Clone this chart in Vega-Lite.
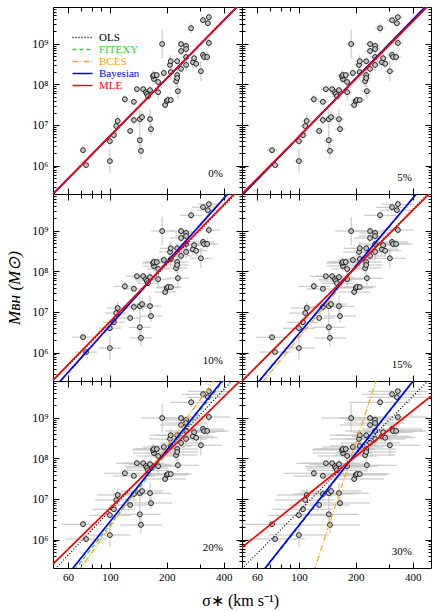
{
"$schema":"https://vega.github.io/schema/vega-lite/v6.json",
"background":"white",
"padding":{"left":5,"top":2,"right":4,"bottom":4},
"title":{"text":"σ∗ (km s⁻¹)","orient":"bottom","anchor":"middle","frame":"bounds","dx":22,"font":"Liberation Serif","fontSize":16,"fontWeight":"normal","offset":8,"color":"black"},
"datasets":{
"pts":[
{"s":72.1,"m":2.4e6,"lo":2.14e6,"hi":2.69e6},
{"s":74.8,"m":1.03e6,"lo":9.2e5,"hi":1.16e6},
{"s":100,"m":1.29e6,"lo":6.5e5,"hi":2.57e6},
{"s":100,"m":4.0e6,"lo":3.18e6,"hi":5.04e6},
{"s":105,"m":5.6e6,"lo":4.66e6,"hi":6.73e6},
{"s":108,"m":9.4e6,"lo":5.93e6,"hi":1.49e7},
{"s":110,"m":1.25e7,"lo":8.85e6,"hi":1.77e7},
{"s":120,"m":4.3e7,"lo":3.42e7,"hi":5.41e7},
{"s":128,"m":7.1e6,"lo":6.33e6,"hi":7.97e6},
{"s":134,"m":1.32e7,"lo":1.0e7,"hi":1.74e7},
{"s":134,"m":3.7e7,"lo":3.3e7,"hi":4.15e7},
{"s":139,"m":7.6e7,"lo":6.77e7,"hi":8.53e7},
{"s":144,"m":4.2e6,"lo":2.36e6,"hi":7.47e6},
{"s":146,"m":2.3e6,"lo":1.45e6,"hi":3.65e6},
{"s":144,"m":1.39e7,"lo":7.82e6,"hi":2.47e7},
{"s":148,"m":1.56e7,"lo":1.1e7,"hi":2.2e7},
{"s":150,"m":7.6e7,"lo":6.77e7,"hi":8.53e7},
{"s":155,"m":6.4e7,"lo":5.32e7,"hi":7.69e7},
{"s":157,"m":5.8e7,"lo":4.83e7,"hi":6.97e7},
{"s":159,"m":5.1e7,"lo":4.55e7,"hi":5.72e7},
{"s":163,"m":1.39e7,"lo":7.82e6,"hi":2.47e7},
{"s":165,"m":7.9e6,"lo":5.59e6,"hi":1.12e7},
{"s":163,"m":7.2e7,"lo":5.72e7,"hi":9.06e7},
{"s":171,"m":1.35e8,"lo":1.02e8,"hi":1.78e8},
{"s":169,"m":1.6e8,"lo":1.13e8,"hi":2.26e8},
{"s":171,"m":1.69e8,"lo":1.34e8,"hi":2.13e8},
{"s":177,"m":1.69e8,"lo":1.41e8,"hi":2.03e8},
{"s":180,"m":1.14e8,"lo":8.07e7,"hi":1.61e8},
{"s":180,"m":6.4e7,"lo":4.04e7,"hi":1.01e8},
{"s":189,"m":9.8e8,"lo":4.38e8,"hi":2.19e9},
{"s":193,"m":1.9e8,"lo":1.51e8,"hi":2.39e8},
{"s":196,"m":3.1e7,"lo":2.58e7,"hi":3.73e7},
{"s":200,"m":3.9e7,"lo":3.1e7,"hi":4.91e7},
{"s":203,"m":4.1e7,"lo":3.26e7,"hi":5.16e7},
{"s":210,"m":4.1e7,"lo":3.41e7,"hi":4.93e7},
{"s":208,"m":3.0e8,"lo":1.89e8,"hi":4.76e8},
{"s":210,"m":3.7e8,"lo":2.62e8,"hi":5.23e8},
{"s":210,"m":2.0e8,"lo":1.26e8,"hi":3.17e8},
{"s":224,"m":1.2e8,"lo":8.49e7,"hi":1.7e8},
{"s":227,"m":3.7e8,"lo":2.94e8,"hi":4.66e8},
{"s":227,"m":1.69e8,"lo":1.2e8,"hi":2.39e8},
{"s":227,"m":1.43e8,"lo":1.01e8,"hi":2.02e8},
{"s":229,"m":6.8e7,"lo":4.49e7,"hi":1.03e8},
{"s":238,"m":9.8e8,"lo":8.15e8,"hi":1.18e9},
{"s":238,"m":6.6e8,"lo":5.24e8,"hi":8.31e8},
{"s":238,"m":2.4e8,"lo":1.82e8,"hi":3.16e8},
{"s":253,"m":8.8e8,"lo":6.99e8,"hi":1.11e9},
{"s":253,"m":7.4e8,"lo":5.88e8,"hi":9.32e8},
{"s":253,"m":4.7e8,"lo":3.57e8,"hi":6.19e8},
{"s":253,"m":3.0e8,"lo":2.12e8,"hi":4.24e8},
{"s":269,"m":2.4e9,"lo":1.82e9,"hi":3.16e9},
{"s":275,"m":3.5e8,"lo":2.48e8,"hi":4.95e8},
{"s":279,"m":4.4e8,"lo":3.34e8,"hi":5.8e8},
{"s":286,"m":3.2e8,"lo":2.43e8,"hi":4.22e8},
{"s":303,"m":2.1e8,"lo":1.18e8,"hi":3.73e8},
{"s":311,"m":3.8e9,"lo":3.39e9,"hi":4.26e9},
{"s":311,"m":5.3e8,"lo":4.21e8,"hi":6.67e8},
{"s":315,"m":4.7e8,"lo":3.73e8,"hi":5.92e8},
{"s":327,"m":4.7e8,"lo":3.57e8,"hi":6.19e8},
{"s":330,"m":3.2e9,"lo":2.66e9,"hi":3.85e9},
{"s":334,"m":4.5e9,"lo":4.01e9,"hi":5.05e9},
{"s":334,"m":1.04e9,"lo":7.89e8,"hi":1.37e9}
],
"fits":[
{"p":"0%","method":"OLS","s":50,"m":2.0e5},{"p":"0%","method":"OLS","s":500,"m":1.07e10},
{"p":"0%","method":"FITEXY","s":50,"m":2.0e5},{"p":"0%","method":"FITEXY","s":500,"m":1.07e10},
{"p":"0%","method":"BCES","s":50,"m":2.0e5},{"p":"0%","method":"BCES","s":500,"m":1.07e10},
{"p":"0%","method":"Bayesian","s":50,"m":2.0e5},{"p":"0%","method":"Bayesian","s":500,"m":1.07e10},
{"p":"0%","method":"MLE","s":50,"m":2.0e5},{"p":"0%","method":"MLE","s":500,"m":1.07e10},
{"p":"5%","method":"OLS","s":50,"m":2.0e5},{"p":"5%","method":"OLS","s":500,"m":1.0e10},
{"p":"5%","method":"FITEXY","s":50,"m":1.82e5},{"p":"5%","method":"FITEXY","s":500,"m":1.15e10},
{"p":"5%","method":"BCES","s":50,"m":1.78e5},{"p":"5%","method":"BCES","s":500,"m":1.17e10},
{"p":"5%","method":"Bayesian","s":50,"m":1.86e5},{"p":"5%","method":"Bayesian","s":500,"m":1.12e10},
{"p":"5%","method":"MLE","s":50,"m":2.0e5},{"p":"5%","method":"MLE","s":500,"m":1.0e10},
{"p":"10%","method":"OLS","s":50,"m":2.0e5},{"p":"10%","method":"OLS","s":500,"m":1.17e10},
{"p":"10%","method":"FITEXY","s":50,"m":1.23e5},{"p":"10%","method":"FITEXY","s":500,"m":2.04e10},
{"p":"10%","method":"BCES","s":50,"m":1.17e5},{"p":"10%","method":"BCES","s":500,"m":2.14e10},
{"p":"10%","method":"Bayesian","s":50,"m":1.26e5},{"p":"10%","method":"Bayesian","s":500,"m":1.95e10},
{"p":"10%","method":"MLE","s":50,"m":2.09e5},{"p":"10%","method":"MLE","s":500,"m":1.26e10},
{"p":"15%","method":"OLS","s":50,"m":1.91e5},{"p":"15%","method":"OLS","s":500,"m":9.55e9},
{"p":"15%","method":"FITEXY","s":50,"m":6.03e4},{"p":"15%","method":"FITEXY","s":500,"m":2.14e10},
{"p":"15%","method":"BCES","s":50,"m":4.47e4},{"p":"15%","method":"BCES","s":500,"m":2.24e10},
{"p":"15%","method":"Bayesian","s":50,"m":6.31e4},{"p":"15%","method":"Bayesian","s":500,"m":2.14e10},
{"p":"15%","method":"MLE","s":50,"m":2.0e5},{"p":"15%","method":"MLE","s":500,"m":8.91e9},
{"p":"20%","method":"OLS","s":50,"m":1.66e5},{"p":"20%","method":"OLS","s":500,"m":1.48e10},
{"p":"20%","method":"FITEXY","s":50,"m":3.8e4},{"p":"20%","method":"FITEXY","s":500,"m":3.02e10},
{"p":"20%","method":"BCES","s":50,"m":2.14e4},{"p":"20%","method":"BCES","s":500,"m":7.94e10},
{"p":"20%","method":"Bayesian","s":50,"m":4.79e4},{"p":"20%","method":"Bayesian","s":500,"m":3.31e10},
{"p":"20%","method":"MLE","s":50,"m":2.51e5},{"p":"20%","method":"MLE","s":500,"m":8.91e9},
{"p":"30%","method":"OLS","s":50,"m":1.91e5},{"p":"30%","method":"OLS","s":500,"m":9.55e9},
{"p":"30%","method":"FITEXY","s":50,"m":3.55e4},{"p":"30%","method":"FITEXY","s":500,"m":2.82e10},
{"p":"30%","method":"BCES","s":50,"m":0.631},{"p":"30%","method":"BCES","s":500,"m":1.12e14},
{"p":"30%","method":"Bayesian","s":50,"m":3.8e4},{"p":"30%","method":"Bayesian","s":500,"m":2.88e10},
{"p":"30%","method":"MLE","s":50,"m":6.46e5},{"p":"30%","method":"MLE","s":500,"m":3.39e9}
]
},
"columns":2,
"spacing":0,
"bounds":"flush",
"align":"all",
"resolve":{"scale":{"color":"independent","strokeDash":"independent"},"legend":{"color":"independent","strokeDash":"independent"}},
"concat":[
{"width":189,"height":187,
"title":{"text":"0%","orient":"top","anchor":"end","frame":"group","offset":-185,"dx":-19,"baseline":"alphabetic","font":"Liberation Serif","fontSize":11,"fontWeight":"normal","color":"black"},
"resolve":{"axis":{"x":"independent","y":"independent"}},
"layer":[
{"data":{"name":"pts"},"mark":{"type":"rule","color":"#c0c0c0","strokeWidth":1},
"encoding":{"x":{"field":"s","type":"quantitative","scale":{"type":"log","domain":[50,500],"nice":false},"axis":{"orient":"top","values":[60,70,80,90,100,200,300,400],"tickSize":{"condition":{"test":"datum.value==60||datum.value==100||datum.value==200||datum.value==400","value":-6},"value":-4},"labels":false,"title":null}},
"y":{"field":"lo","type":"quantitative","scale":{"type":"log","domain":[2e5,8e9],"nice":false},"axis":{"orient":"right","values":[300000,400000,500000,600000,700000,800000,900000,1e6,2e6,3e6,4e6,5e6,6e6,7e6,8e6,9e6,1e7,2e7,3e7,4e7,5e7,6e7,7e7,8e7,9e7,1e8,2e8,3e8,4e8,5e8,6e8,7e8,8e8,9e8,1e9,2e9,3e9,4e9,5e9,6e9,7e9],"tickSize":{"condition":{"test":"datum.value==1e6||datum.value==1e7||datum.value==1e8||datum.value==1e9","value":-6},"value":-3},"labels":false,"title":null}},
"y2":{"field":"hi"}}},
{"data":{"name":"pts"},"mark":{"type":"circle","color":"#c4c4c4","stroke":"black","strokeWidth":0.8,"size":24,"opacity":1},
"encoding":{"x":{"field":"s","type":"quantitative","scale":{"type":"log","domain":[50,500],"nice":false},"axis":{"orient":"bottom","values":[60,70,80,90,100,200,300,400],"tickSize":{"condition":{"test":"datum.value==60||datum.value==100||datum.value==200||datum.value==400","value":-6},"value":-4},"labels":false,"title":null}},
"y":{"field":"m","type":"quantitative","scale":{"type":"log","domain":[2e5,8e9],"nice":false},"axis":{"orient":"left","values":[300000,400000,500000,600000,700000,800000,900000,1e6,2e6,3e6,4e6,5e6,6e6,7e6,8e6,9e6,1e7,2e7,3e7,4e7,5e7,6e7,7e7,8e7,9e7,1e8,2e8,3e8,4e8,5e8,6e8,7e8,8e8,9e8,1e9,2e9,3e9,4e9,5e9,6e9,7e9],"tickSize":{"condition":{"test":"datum.value==1e6||datum.value==1e7||datum.value==1e8||datum.value==1e9","value":-6},"value":-3},"labelExpr":"datum.value==1e6?'10⁶':datum.value==1e7?'10⁷':datum.value==1e8?'10⁸':datum.value==1e9?'10⁹':''","labelPadding":11,"labelFontSize":12,"title":null}}}},
{"data":{"name":"fits"},"transform":[{"filter":"datum.p=='0%' && (datum.method=='OLS'||datum.method=='FITEXY'||datum.method=='BCES')"}],"mark":{"type":"line","clip":true,"strokeWidth":1.2},
"encoding":{"x":{"field":"s","type":"quantitative","scale":{"type":"log","domain":[50,500],"nice":false},"axis":null},
"y":{"field":"m","type":"quantitative","scale":{"type":"log","domain":[2e5,8e9],"nice":false},"axis":null},
"color":{"field":"method","type":"nominal","scale":{"domain":["OLS","FITEXY","BCES","Bayesian","MLE"],"range":["black","#33cc33","orange","blue","red"]},"legend":{"orient":"none","legendX":24,"legendY":25,"title":null,"symbolType":"M-2.5,0H2.5","symbolSize":64,"symbolStrokeWidth":1.5,"labelFont":"Liberation Serif","labelFontSize":11,"labelColor":{"expr":"datum.value=='OLS'?'black':datum.value=='FITEXY'?'#33cc33':datum.value=='BCES'?'orange':datum.value=='Bayesian'?'blue':'red'"},"rowPadding":0,"padding":0,"labelOffset":11}},
"strokeDash":{"field":"method","type":"nominal","scale":{"domain":["OLS","FITEXY","BCES","Bayesian","MLE"],"range":[[1,2],[4,3],[6,2,1,2],[1,0],[1,0]]},"legend":{"orient":"none","legendX":24,"legendY":25,"title":null,"symbolType":"M-2.5,0H2.5","symbolSize":64,"symbolStrokeWidth":1.5,"labelFont":"Liberation Serif","labelFontSize":11,"labelColor":{"expr":"datum.value=='OLS'?'black':datum.value=='FITEXY'?'#33cc33':datum.value=='BCES'?'orange':datum.value=='Bayesian'?'blue':'red'"},"rowPadding":0,"padding":0,"labelOffset":11}}}},
{"data":{"name":"fits"},"transform":[{"filter":"datum.p=='0%' && datum.method=='Bayesian'"}],"mark":{"type":"line","clip":true,"strokeWidth":1.7},
"encoding":{"x":{"field":"s","type":"quantitative","scale":{"type":"log","domain":[50,500],"nice":false},"axis":null},
"y":{"field":"m","type":"quantitative","scale":{"type":"log","domain":[2e5,8e9],"nice":false},"axis":null},
"color":{"field":"method","type":"nominal","scale":{"domain":["OLS","FITEXY","BCES","Bayesian","MLE"],"range":["black","#33cc33","orange","blue","red"]},"legend":{"orient":"none","legendX":24,"legendY":25,"title":null,"symbolType":"M-2.5,0H2.5","symbolSize":64,"symbolStrokeWidth":1.5,"labelFont":"Liberation Serif","labelFontSize":11,"labelColor":{"expr":"datum.value=='OLS'?'black':datum.value=='FITEXY'?'#33cc33':datum.value=='BCES'?'orange':datum.value=='Bayesian'?'blue':'red'"},"rowPadding":0,"padding":0,"labelOffset":11}},
"strokeDash":{"field":"method","type":"nominal","scale":{"domain":["OLS","FITEXY","BCES","Bayesian","MLE"],"range":[[1,2],[4,3],[6,2,1,2],[1,0],[1,0]]},"legend":{"orient":"none","legendX":24,"legendY":25,"title":null,"symbolType":"M-2.5,0H2.5","symbolSize":64,"symbolStrokeWidth":1.5,"labelFont":"Liberation Serif","labelFontSize":11,"labelColor":{"expr":"datum.value=='OLS'?'black':datum.value=='FITEXY'?'#33cc33':datum.value=='BCES'?'orange':datum.value=='Bayesian'?'blue':'red'"},"rowPadding":0,"padding":0,"labelOffset":11}}}},
{"data":{"name":"fits"},"transform":[{"filter":"datum.p=='0%' && datum.method=='MLE'"}],"mark":{"type":"line","clip":true,"strokeWidth":1.7},
"encoding":{"x":{"field":"s","type":"quantitative","scale":{"type":"log","domain":[50,500],"nice":false},"axis":null},
"y":{"field":"m","type":"quantitative","scale":{"type":"log","domain":[2e5,8e9],"nice":false},"axis":null},
"color":{"field":"method","type":"nominal","scale":{"domain":["OLS","FITEXY","BCES","Bayesian","MLE"],"range":["black","#33cc33","orange","blue","red"]},"legend":{"orient":"none","legendX":24,"legendY":25,"title":null,"symbolType":"M-2.5,0H2.5","symbolSize":64,"symbolStrokeWidth":1.5,"labelFont":"Liberation Serif","labelFontSize":11,"labelColor":{"expr":"datum.value=='OLS'?'black':datum.value=='FITEXY'?'#33cc33':datum.value=='BCES'?'orange':datum.value=='Bayesian'?'blue':'red'"},"rowPadding":0,"padding":0,"labelOffset":11}},
"strokeDash":{"field":"method","type":"nominal","scale":{"domain":["OLS","FITEXY","BCES","Bayesian","MLE"],"range":[[1,2],[4,3],[6,2,1,2],[1,0],[1,0]]},"legend":{"orient":"none","legendX":24,"legendY":25,"title":null,"symbolType":"M-2.5,0H2.5","symbolSize":64,"symbolStrokeWidth":1.5,"labelFont":"Liberation Serif","labelFontSize":11,"labelColor":{"expr":"datum.value=='OLS'?'black':datum.value=='FITEXY'?'#33cc33':datum.value=='BCES'?'orange':datum.value=='Bayesian'?'blue':'red'"},"rowPadding":0,"padding":0,"labelOffset":11}}}}
]},
{"width":189,"height":187,
"title":{"text":"5%","orient":"top","anchor":"end","frame":"group","offset":-185,"dx":-19,"baseline":"alphabetic","font":"Liberation Serif","fontSize":11,"fontWeight":"normal","color":"black"},
"resolve":{"axis":{"x":"independent","y":"independent"}},
"layer":[
{"data":{"name":"pts"},"mark":{"type":"rule","color":"#c0c0c0","strokeWidth":1},
"encoding":{"x":{"field":"s","type":"quantitative","scale":{"type":"log","domain":[50,500],"nice":false},"axis":{"orient":"top","values":[60,70,80,90,100,200,300,400],"tickSize":{"condition":{"test":"datum.value==60||datum.value==100||datum.value==200||datum.value==400","value":-6},"value":-4},"labels":false,"title":null}},
"y":{"field":"lo","type":"quantitative","scale":{"type":"log","domain":[2e5,8e9],"nice":false},"axis":{"orient":"right","values":[300000,400000,500000,600000,700000,800000,900000,1e6,2e6,3e6,4e6,5e6,6e6,7e6,8e6,9e6,1e7,2e7,3e7,4e7,5e7,6e7,7e7,8e7,9e7,1e8,2e8,3e8,4e8,5e8,6e8,7e8,8e8,9e8,1e9,2e9,3e9,4e9,5e9,6e9,7e9],"tickSize":{"condition":{"test":"datum.value==1e6||datum.value==1e7||datum.value==1e8||datum.value==1e9","value":-6},"value":-3},"labels":false,"title":null}},
"y2":{"field":"hi"}}},
{"data":{"name":"pts"},"mark":{"type":"tick","orient":"horizontal","size":10,"thickness":1,"color":"#c0c0c0","opacity":1},
"encoding":{"x":{"field":"s","type":"quantitative","scale":{"type":"log","domain":[50,500],"nice":false},"axis":null},"y":{"field":"m","type":"quantitative","scale":{"type":"log","domain":[2e5,8e9],"nice":false},"axis":null}}},
{"data":{"name":"pts"},"mark":{"type":"circle","color":"#c4c4c4","stroke":"black","strokeWidth":0.8,"size":24,"opacity":1},
"encoding":{"x":{"field":"s","type":"quantitative","scale":{"type":"log","domain":[50,500],"nice":false},"axis":{"orient":"bottom","values":[60,70,80,90,100,200,300,400],"tickSize":{"condition":{"test":"datum.value==60||datum.value==100||datum.value==200||datum.value==400","value":-6},"value":-4},"labels":false,"title":null}},
"y":{"field":"m","type":"quantitative","scale":{"type":"log","domain":[2e5,8e9],"nice":false},"axis":{"orient":"left","values":[300000,400000,500000,600000,700000,800000,900000,1e6,2e6,3e6,4e6,5e6,6e6,7e6,8e6,9e6,1e7,2e7,3e7,4e7,5e7,6e7,7e7,8e7,9e7,1e8,2e8,3e8,4e8,5e8,6e8,7e8,8e8,9e8,1e9,2e9,3e9,4e9,5e9,6e9,7e9],"tickSize":{"condition":{"test":"datum.value==1e6||datum.value==1e7||datum.value==1e8||datum.value==1e9","value":-6},"value":-3},"labels":false,"title":null}}}},
{"data":{"name":"fits"},"transform":[{"filter":"datum.p=='5%' && (datum.method=='OLS'||datum.method=='FITEXY'||datum.method=='BCES')"}],"mark":{"type":"line","clip":true,"strokeWidth":1.2},
"encoding":{"x":{"field":"s","type":"quantitative","scale":{"type":"log","domain":[50,500],"nice":false},"axis":null},
"y":{"field":"m","type":"quantitative","scale":{"type":"log","domain":[2e5,8e9],"nice":false},"axis":null},
"color":{"field":"method","type":"nominal","scale":{"domain":["OLS","FITEXY","BCES","Bayesian","MLE"],"range":["black","#33cc33","orange","blue","red"]},"legend":null},
"strokeDash":{"field":"method","type":"nominal","scale":{"domain":["OLS","FITEXY","BCES","Bayesian","MLE"],"range":[[1,2],[4,3],[6,2,1,2],[1,0],[1,0]]},"legend":null}}},
{"data":{"name":"fits"},"transform":[{"filter":"datum.p=='5%' && datum.method=='Bayesian'"}],"mark":{"type":"line","clip":true,"strokeWidth":1.7},
"encoding":{"x":{"field":"s","type":"quantitative","scale":{"type":"log","domain":[50,500],"nice":false},"axis":null},
"y":{"field":"m","type":"quantitative","scale":{"type":"log","domain":[2e5,8e9],"nice":false},"axis":null},
"color":{"field":"method","type":"nominal","scale":{"domain":["OLS","FITEXY","BCES","Bayesian","MLE"],"range":["black","#33cc33","orange","blue","red"]},"legend":null},
"strokeDash":{"field":"method","type":"nominal","scale":{"domain":["OLS","FITEXY","BCES","Bayesian","MLE"],"range":[[1,2],[4,3],[6,2,1,2],[1,0],[1,0]]},"legend":null}}},
{"data":{"name":"fits"},"transform":[{"filter":"datum.p=='5%' && datum.method=='MLE'"}],"mark":{"type":"line","clip":true,"strokeWidth":1.7},
"encoding":{"x":{"field":"s","type":"quantitative","scale":{"type":"log","domain":[50,500],"nice":false},"axis":null},
"y":{"field":"m","type":"quantitative","scale":{"type":"log","domain":[2e5,8e9],"nice":false},"axis":null},
"color":{"field":"method","type":"nominal","scale":{"domain":["OLS","FITEXY","BCES","Bayesian","MLE"],"range":["black","#33cc33","orange","blue","red"]},"legend":null},
"strokeDash":{"field":"method","type":"nominal","scale":{"domain":["OLS","FITEXY","BCES","Bayesian","MLE"],"range":[[1,2],[4,3],[6,2,1,2],[1,0],[1,0]]},"legend":null}}}
]},
{"width":189,"height":187,
"title":{"text":"10%","orient":"top","anchor":"end","frame":"group","offset":-185,"dx":-19,"baseline":"alphabetic","font":"Liberation Serif","fontSize":11,"fontWeight":"normal","color":"black"},
"resolve":{"axis":{"x":"independent","y":"independent"}},
"layer":[
{"data":{"name":"pts"},"mark":{"type":"rule","color":"#c0c0c0","strokeWidth":1},
"encoding":{"x":{"field":"s","type":"quantitative","scale":{"type":"log","domain":[50,500],"nice":false},"axis":{"orient":"top","values":[60,70,80,90,100,200,300,400],"tickSize":{"condition":{"test":"datum.value==60||datum.value==100||datum.value==200||datum.value==400","value":-6},"value":-4},"labels":false,"title":null}},
"y":{"field":"lo","type":"quantitative","scale":{"type":"log","domain":[2e5,8e9],"nice":false},"axis":{"orient":"right","values":[300000,400000,500000,600000,700000,800000,900000,1e6,2e6,3e6,4e6,5e6,6e6,7e6,8e6,9e6,1e7,2e7,3e7,4e7,5e7,6e7,7e7,8e7,9e7,1e8,2e8,3e8,4e8,5e8,6e8,7e8,8e8,9e8,1e9,2e9,3e9,4e9,5e9,6e9,7e9],"tickSize":{"condition":{"test":"datum.value==1e6||datum.value==1e7||datum.value==1e8||datum.value==1e9","value":-6},"value":-3},"labels":false,"title":null}},
"y2":{"field":"hi"}}},
{"data":{"name":"pts"},"mark":{"type":"tick","orient":"horizontal","size":22,"thickness":1,"color":"#c0c0c0","opacity":1},
"encoding":{"x":{"field":"s","type":"quantitative","scale":{"type":"log","domain":[50,500],"nice":false},"axis":null},"y":{"field":"m","type":"quantitative","scale":{"type":"log","domain":[2e5,8e9],"nice":false},"axis":null}}},
{"data":{"name":"pts"},"mark":{"type":"circle","color":"#c4c4c4","stroke":"black","strokeWidth":0.8,"size":24,"opacity":1},
"encoding":{"x":{"field":"s","type":"quantitative","scale":{"type":"log","domain":[50,500],"nice":false},"axis":{"orient":"bottom","values":[60,70,80,90,100,200,300,400],"tickSize":{"condition":{"test":"datum.value==60||datum.value==100||datum.value==200||datum.value==400","value":-6},"value":-4},"labels":false,"title":null}},
"y":{"field":"m","type":"quantitative","scale":{"type":"log","domain":[2e5,8e9],"nice":false},"axis":{"orient":"left","values":[300000,400000,500000,600000,700000,800000,900000,1e6,2e6,3e6,4e6,5e6,6e6,7e6,8e6,9e6,1e7,2e7,3e7,4e7,5e7,6e7,7e7,8e7,9e7,1e8,2e8,3e8,4e8,5e8,6e8,7e8,8e8,9e8,1e9,2e9,3e9,4e9,5e9,6e9,7e9],"tickSize":{"condition":{"test":"datum.value==1e6||datum.value==1e7||datum.value==1e8||datum.value==1e9","value":-6},"value":-3},"labelExpr":"datum.value==1e6?'10⁶':datum.value==1e7?'10⁷':datum.value==1e8?'10⁸':datum.value==1e9?'10⁹':''","labelPadding":11,"labelFontSize":12,"title":"Mʙʜ (M⊙)","titleFont":"Liberation Serif","titleFontSize":17,"titleFontStyle":"italic","titleFontWeight":"normal","titlePadding":8}}}},
{"data":{"name":"fits"},"transform":[{"filter":"datum.p=='10%' && (datum.method=='OLS'||datum.method=='FITEXY'||datum.method=='BCES')"}],"mark":{"type":"line","clip":true,"strokeWidth":1.2},
"encoding":{"x":{"field":"s","type":"quantitative","scale":{"type":"log","domain":[50,500],"nice":false},"axis":null},
"y":{"field":"m","type":"quantitative","scale":{"type":"log","domain":[2e5,8e9],"nice":false},"axis":null},
"color":{"field":"method","type":"nominal","scale":{"domain":["OLS","FITEXY","BCES","Bayesian","MLE"],"range":["black","#33cc33","orange","blue","red"]},"legend":null},
"strokeDash":{"field":"method","type":"nominal","scale":{"domain":["OLS","FITEXY","BCES","Bayesian","MLE"],"range":[[1,2],[4,3],[6,2,1,2],[1,0],[1,0]]},"legend":null}}},
{"data":{"name":"fits"},"transform":[{"filter":"datum.p=='10%' && datum.method=='Bayesian'"}],"mark":{"type":"line","clip":true,"strokeWidth":1.7},
"encoding":{"x":{"field":"s","type":"quantitative","scale":{"type":"log","domain":[50,500],"nice":false},"axis":null},
"y":{"field":"m","type":"quantitative","scale":{"type":"log","domain":[2e5,8e9],"nice":false},"axis":null},
"color":{"field":"method","type":"nominal","scale":{"domain":["OLS","FITEXY","BCES","Bayesian","MLE"],"range":["black","#33cc33","orange","blue","red"]},"legend":null},
"strokeDash":{"field":"method","type":"nominal","scale":{"domain":["OLS","FITEXY","BCES","Bayesian","MLE"],"range":[[1,2],[4,3],[6,2,1,2],[1,0],[1,0]]},"legend":null}}},
{"data":{"name":"fits"},"transform":[{"filter":"datum.p=='10%' && datum.method=='MLE'"}],"mark":{"type":"line","clip":true,"strokeWidth":1.7},
"encoding":{"x":{"field":"s","type":"quantitative","scale":{"type":"log","domain":[50,500],"nice":false},"axis":null},
"y":{"field":"m","type":"quantitative","scale":{"type":"log","domain":[2e5,8e9],"nice":false},"axis":null},
"color":{"field":"method","type":"nominal","scale":{"domain":["OLS","FITEXY","BCES","Bayesian","MLE"],"range":["black","#33cc33","orange","blue","red"]},"legend":null},
"strokeDash":{"field":"method","type":"nominal","scale":{"domain":["OLS","FITEXY","BCES","Bayesian","MLE"],"range":[[1,2],[4,3],[6,2,1,2],[1,0],[1,0]]},"legend":null}}}
]},
{"width":189,"height":187,
"title":{"text":"15%","orient":"top","anchor":"end","frame":"group","offset":-185,"dx":-19,"baseline":"alphabetic","font":"Liberation Serif","fontSize":11,"fontWeight":"normal","color":"black"},
"resolve":{"axis":{"x":"independent","y":"independent"}},
"layer":[
{"data":{"name":"pts"},"mark":{"type":"rule","color":"#c0c0c0","strokeWidth":1},
"encoding":{"x":{"field":"s","type":"quantitative","scale":{"type":"log","domain":[50,500],"nice":false},"axis":{"orient":"top","values":[60,70,80,90,100,200,300,400],"tickSize":{"condition":{"test":"datum.value==60||datum.value==100||datum.value==200||datum.value==400","value":-6},"value":-4},"labels":false,"title":null}},
"y":{"field":"lo","type":"quantitative","scale":{"type":"log","domain":[2e5,8e9],"nice":false},"axis":{"orient":"right","values":[300000,400000,500000,600000,700000,800000,900000,1e6,2e6,3e6,4e6,5e6,6e6,7e6,8e6,9e6,1e7,2e7,3e7,4e7,5e7,6e7,7e7,8e7,9e7,1e8,2e8,3e8,4e8,5e8,6e8,7e8,8e8,9e8,1e9,2e9,3e9,4e9,5e9,6e9,7e9],"tickSize":{"condition":{"test":"datum.value==1e6||datum.value==1e7||datum.value==1e8||datum.value==1e9","value":-6},"value":-3},"labels":false,"title":null}},
"y2":{"field":"hi"}}},
{"data":{"name":"pts"},"mark":{"type":"tick","orient":"horizontal","size":32,"thickness":1,"color":"#c0c0c0","opacity":1},
"encoding":{"x":{"field":"s","type":"quantitative","scale":{"type":"log","domain":[50,500],"nice":false},"axis":null},"y":{"field":"m","type":"quantitative","scale":{"type":"log","domain":[2e5,8e9],"nice":false},"axis":null}}},
{"data":{"name":"pts"},"mark":{"type":"circle","color":"#c4c4c4","stroke":"black","strokeWidth":0.8,"size":24,"opacity":1},
"encoding":{"x":{"field":"s","type":"quantitative","scale":{"type":"log","domain":[50,500],"nice":false},"axis":{"orient":"bottom","values":[60,70,80,90,100,200,300,400],"tickSize":{"condition":{"test":"datum.value==60||datum.value==100||datum.value==200||datum.value==400","value":-6},"value":-4},"labels":false,"title":null}},
"y":{"field":"m","type":"quantitative","scale":{"type":"log","domain":[2e5,8e9],"nice":false},"axis":{"orient":"left","values":[300000,400000,500000,600000,700000,800000,900000,1e6,2e6,3e6,4e6,5e6,6e6,7e6,8e6,9e6,1e7,2e7,3e7,4e7,5e7,6e7,7e7,8e7,9e7,1e8,2e8,3e8,4e8,5e8,6e8,7e8,8e8,9e8,1e9,2e9,3e9,4e9,5e9,6e9,7e9],"tickSize":{"condition":{"test":"datum.value==1e6||datum.value==1e7||datum.value==1e8||datum.value==1e9","value":-6},"value":-3},"labels":false,"title":null}}}},
{"data":{"name":"fits"},"transform":[{"filter":"datum.p=='15%' && (datum.method=='OLS'||datum.method=='FITEXY'||datum.method=='BCES')"}],"mark":{"type":"line","clip":true,"strokeWidth":1.2},
"encoding":{"x":{"field":"s","type":"quantitative","scale":{"type":"log","domain":[50,500],"nice":false},"axis":null},
"y":{"field":"m","type":"quantitative","scale":{"type":"log","domain":[2e5,8e9],"nice":false},"axis":null},
"color":{"field":"method","type":"nominal","scale":{"domain":["OLS","FITEXY","BCES","Bayesian","MLE"],"range":["black","#33cc33","orange","blue","red"]},"legend":null},
"strokeDash":{"field":"method","type":"nominal","scale":{"domain":["OLS","FITEXY","BCES","Bayesian","MLE"],"range":[[1,2],[4,3],[6,2,1,2],[1,0],[1,0]]},"legend":null}}},
{"data":{"name":"fits"},"transform":[{"filter":"datum.p=='15%' && datum.method=='Bayesian'"}],"mark":{"type":"line","clip":true,"strokeWidth":1.7},
"encoding":{"x":{"field":"s","type":"quantitative","scale":{"type":"log","domain":[50,500],"nice":false},"axis":null},
"y":{"field":"m","type":"quantitative","scale":{"type":"log","domain":[2e5,8e9],"nice":false},"axis":null},
"color":{"field":"method","type":"nominal","scale":{"domain":["OLS","FITEXY","BCES","Bayesian","MLE"],"range":["black","#33cc33","orange","blue","red"]},"legend":null},
"strokeDash":{"field":"method","type":"nominal","scale":{"domain":["OLS","FITEXY","BCES","Bayesian","MLE"],"range":[[1,2],[4,3],[6,2,1,2],[1,0],[1,0]]},"legend":null}}},
{"data":{"name":"fits"},"transform":[{"filter":"datum.p=='15%' && datum.method=='MLE'"}],"mark":{"type":"line","clip":true,"strokeWidth":1.7},
"encoding":{"x":{"field":"s","type":"quantitative","scale":{"type":"log","domain":[50,500],"nice":false},"axis":null},
"y":{"field":"m","type":"quantitative","scale":{"type":"log","domain":[2e5,8e9],"nice":false},"axis":null},
"color":{"field":"method","type":"nominal","scale":{"domain":["OLS","FITEXY","BCES","Bayesian","MLE"],"range":["black","#33cc33","orange","blue","red"]},"legend":null},
"strokeDash":{"field":"method","type":"nominal","scale":{"domain":["OLS","FITEXY","BCES","Bayesian","MLE"],"range":[[1,2],[4,3],[6,2,1,2],[1,0],[1,0]]},"legend":null}}}
]},
{"width":189,"height":187,
"title":{"text":"20%","orient":"top","anchor":"end","frame":"group","offset":-185,"dx":-19,"baseline":"alphabetic","font":"Liberation Serif","fontSize":11,"fontWeight":"normal","color":"black"},
"resolve":{"axis":{"x":"independent","y":"independent"}},
"layer":[
{"data":{"name":"pts"},"mark":{"type":"rule","color":"#c0c0c0","strokeWidth":1},
"encoding":{"x":{"field":"s","type":"quantitative","scale":{"type":"log","domain":[50,500],"nice":false},"axis":{"orient":"top","values":[60,70,80,90,100,200,300,400],"tickSize":{"condition":{"test":"datum.value==60||datum.value==100||datum.value==200||datum.value==400","value":-6},"value":-4},"labels":false,"title":null}},
"y":{"field":"lo","type":"quantitative","scale":{"type":"log","domain":[2e5,8e9],"nice":false},"axis":{"orient":"right","values":[300000,400000,500000,600000,700000,800000,900000,1e6,2e6,3e6,4e6,5e6,6e6,7e6,8e6,9e6,1e7,2e7,3e7,4e7,5e7,6e7,7e7,8e7,9e7,1e8,2e8,3e8,4e8,5e8,6e8,7e8,8e8,9e8,1e9,2e9,3e9,4e9,5e9,6e9,7e9],"tickSize":{"condition":{"test":"datum.value==1e6||datum.value==1e7||datum.value==1e8||datum.value==1e9","value":-6},"value":-3},"labels":false,"title":null}},
"y2":{"field":"hi"}}},
{"data":{"name":"pts"},"mark":{"type":"tick","orient":"horizontal","size":42,"thickness":1,"color":"#c0c0c0","opacity":1},
"encoding":{"x":{"field":"s","type":"quantitative","scale":{"type":"log","domain":[50,500],"nice":false},"axis":null},"y":{"field":"m","type":"quantitative","scale":{"type":"log","domain":[2e5,8e9],"nice":false},"axis":null}}},
{"data":{"name":"pts"},"mark":{"type":"circle","color":"#c4c4c4","stroke":"black","strokeWidth":0.8,"size":24,"opacity":1},
"encoding":{"x":{"field":"s","type":"quantitative","scale":{"type":"log","domain":[50,500],"nice":false},"axis":{"orient":"bottom","values":[60,70,80,90,100,200,300,400],"tickSize":{"condition":{"test":"datum.value==60||datum.value==100||datum.value==200||datum.value==400","value":-6},"value":-4},"labelExpr":"(datum.value==60||datum.value==100||datum.value==200||datum.value==400)?''+datum.value:''","labelPadding":9,"labelFontSize":11,"title":null}},
"y":{"field":"m","type":"quantitative","scale":{"type":"log","domain":[2e5,8e9],"nice":false},"axis":{"orient":"left","values":[300000,400000,500000,600000,700000,800000,900000,1e6,2e6,3e6,4e6,5e6,6e6,7e6,8e6,9e6,1e7,2e7,3e7,4e7,5e7,6e7,7e7,8e7,9e7,1e8,2e8,3e8,4e8,5e8,6e8,7e8,8e8,9e8,1e9,2e9,3e9,4e9,5e9,6e9,7e9],"tickSize":{"condition":{"test":"datum.value==1e6||datum.value==1e7||datum.value==1e8||datum.value==1e9","value":-6},"value":-3},"labelExpr":"datum.value==1e6?'10⁶':datum.value==1e7?'10⁷':datum.value==1e8?'10⁸':datum.value==1e9?'10⁹':''","labelPadding":11,"labelFontSize":12,"title":null}}}},
{"data":{"name":"fits"},"transform":[{"filter":"datum.p=='20%' && (datum.method=='OLS'||datum.method=='FITEXY'||datum.method=='BCES')"}],"mark":{"type":"line","clip":true,"strokeWidth":1.2},
"encoding":{"x":{"field":"s","type":"quantitative","scale":{"type":"log","domain":[50,500],"nice":false},"axis":null},
"y":{"field":"m","type":"quantitative","scale":{"type":"log","domain":[2e5,8e9],"nice":false},"axis":null},
"color":{"field":"method","type":"nominal","scale":{"domain":["OLS","FITEXY","BCES","Bayesian","MLE"],"range":["black","#33cc33","orange","blue","red"]},"legend":null},
"strokeDash":{"field":"method","type":"nominal","scale":{"domain":["OLS","FITEXY","BCES","Bayesian","MLE"],"range":[[1,2],[4,3],[6,2,1,2],[1,0],[1,0]]},"legend":null}}},
{"data":{"name":"fits"},"transform":[{"filter":"datum.p=='20%' && datum.method=='Bayesian'"}],"mark":{"type":"line","clip":true,"strokeWidth":1.7},
"encoding":{"x":{"field":"s","type":"quantitative","scale":{"type":"log","domain":[50,500],"nice":false},"axis":null},
"y":{"field":"m","type":"quantitative","scale":{"type":"log","domain":[2e5,8e9],"nice":false},"axis":null},
"color":{"field":"method","type":"nominal","scale":{"domain":["OLS","FITEXY","BCES","Bayesian","MLE"],"range":["black","#33cc33","orange","blue","red"]},"legend":null},
"strokeDash":{"field":"method","type":"nominal","scale":{"domain":["OLS","FITEXY","BCES","Bayesian","MLE"],"range":[[1,2],[4,3],[6,2,1,2],[1,0],[1,0]]},"legend":null}}},
{"data":{"name":"fits"},"transform":[{"filter":"datum.p=='20%' && datum.method=='MLE'"}],"mark":{"type":"line","clip":true,"strokeWidth":1.7},
"encoding":{"x":{"field":"s","type":"quantitative","scale":{"type":"log","domain":[50,500],"nice":false},"axis":null},
"y":{"field":"m","type":"quantitative","scale":{"type":"log","domain":[2e5,8e9],"nice":false},"axis":null},
"color":{"field":"method","type":"nominal","scale":{"domain":["OLS","FITEXY","BCES","Bayesian","MLE"],"range":["black","#33cc33","orange","blue","red"]},"legend":null},
"strokeDash":{"field":"method","type":"nominal","scale":{"domain":["OLS","FITEXY","BCES","Bayesian","MLE"],"range":[[1,2],[4,3],[6,2,1,2],[1,0],[1,0]]},"legend":null}}}
]},
{"width":189,"height":187,
"title":{"text":"30%","orient":"top","anchor":"end","frame":"group","offset":-185,"dx":-19,"baseline":"alphabetic","font":"Liberation Serif","fontSize":11,"fontWeight":"normal","color":"black"},
"resolve":{"axis":{"x":"independent","y":"independent"}},
"layer":[
{"data":{"name":"pts"},"mark":{"type":"rule","color":"#c0c0c0","strokeWidth":1},
"encoding":{"x":{"field":"s","type":"quantitative","scale":{"type":"log","domain":[50,500],"nice":false},"axis":{"orient":"top","values":[60,70,80,90,100,200,300,400],"tickSize":{"condition":{"test":"datum.value==60||datum.value==100||datum.value==200||datum.value==400","value":-6},"value":-4},"labels":false,"title":null}},
"y":{"field":"lo","type":"quantitative","scale":{"type":"log","domain":[2e5,8e9],"nice":false},"axis":{"orient":"right","values":[300000,400000,500000,600000,700000,800000,900000,1e6,2e6,3e6,4e6,5e6,6e6,7e6,8e6,9e6,1e7,2e7,3e7,4e7,5e7,6e7,7e7,8e7,9e7,1e8,2e8,3e8,4e8,5e8,6e8,7e8,8e8,9e8,1e9,2e9,3e9,4e9,5e9,6e9,7e9],"tickSize":{"condition":{"test":"datum.value==1e6||datum.value==1e7||datum.value==1e8||datum.value==1e9","value":-6},"value":-3},"labels":false,"title":null}},
"y2":{"field":"hi"}}},
{"data":{"name":"pts"},"mark":{"type":"tick","orient":"horizontal","size":60,"thickness":1,"color":"#c0c0c0","opacity":1},
"encoding":{"x":{"field":"s","type":"quantitative","scale":{"type":"log","domain":[50,500],"nice":false},"axis":null},"y":{"field":"m","type":"quantitative","scale":{"type":"log","domain":[2e5,8e9],"nice":false},"axis":null}}},
{"data":{"name":"pts"},"mark":{"type":"circle","color":"#c4c4c4","stroke":"black","strokeWidth":0.8,"size":24,"opacity":1},
"encoding":{"x":{"field":"s","type":"quantitative","scale":{"type":"log","domain":[50,500],"nice":false},"axis":{"orient":"bottom","values":[60,70,80,90,100,200,300,400],"tickSize":{"condition":{"test":"datum.value==60||datum.value==100||datum.value==200||datum.value==400","value":-6},"value":-4},"labelExpr":"(datum.value==60||datum.value==100||datum.value==200||datum.value==400)?''+datum.value:''","labelPadding":9,"labelFontSize":11,"title":null}},
"y":{"field":"m","type":"quantitative","scale":{"type":"log","domain":[2e5,8e9],"nice":false},"axis":{"orient":"left","values":[300000,400000,500000,600000,700000,800000,900000,1e6,2e6,3e6,4e6,5e6,6e6,7e6,8e6,9e6,1e7,2e7,3e7,4e7,5e7,6e7,7e7,8e7,9e7,1e8,2e8,3e8,4e8,5e8,6e8,7e8,8e8,9e8,1e9,2e9,3e9,4e9,5e9,6e9,7e9],"tickSize":{"condition":{"test":"datum.value==1e6||datum.value==1e7||datum.value==1e8||datum.value==1e9","value":-6},"value":-3},"labels":false,"title":null}}}},
{"data":{"name":"fits"},"transform":[{"filter":"datum.p=='30%' && (datum.method=='OLS'||datum.method=='FITEXY'||datum.method=='BCES')"}],"mark":{"type":"line","clip":true,"strokeWidth":1.2},
"encoding":{"x":{"field":"s","type":"quantitative","scale":{"type":"log","domain":[50,500],"nice":false},"axis":null},
"y":{"field":"m","type":"quantitative","scale":{"type":"log","domain":[2e5,8e9],"nice":false},"axis":null},
"color":{"field":"method","type":"nominal","scale":{"domain":["OLS","FITEXY","BCES","Bayesian","MLE"],"range":["black","#33cc33","orange","blue","red"]},"legend":null},
"strokeDash":{"field":"method","type":"nominal","scale":{"domain":["OLS","FITEXY","BCES","Bayesian","MLE"],"range":[[1,2],[4,3],[6,2,1,2],[1,0],[1,0]]},"legend":null}}},
{"data":{"name":"fits"},"transform":[{"filter":"datum.p=='30%' && datum.method=='Bayesian'"}],"mark":{"type":"line","clip":true,"strokeWidth":1.7},
"encoding":{"x":{"field":"s","type":"quantitative","scale":{"type":"log","domain":[50,500],"nice":false},"axis":null},
"y":{"field":"m","type":"quantitative","scale":{"type":"log","domain":[2e5,8e9],"nice":false},"axis":null},
"color":{"field":"method","type":"nominal","scale":{"domain":["OLS","FITEXY","BCES","Bayesian","MLE"],"range":["black","#33cc33","orange","blue","red"]},"legend":null},
"strokeDash":{"field":"method","type":"nominal","scale":{"domain":["OLS","FITEXY","BCES","Bayesian","MLE"],"range":[[1,2],[4,3],[6,2,1,2],[1,0],[1,0]]},"legend":null}}},
{"data":{"name":"fits"},"transform":[{"filter":"datum.p=='30%' && datum.method=='MLE'"}],"mark":{"type":"line","clip":true,"strokeWidth":1.7},
"encoding":{"x":{"field":"s","type":"quantitative","scale":{"type":"log","domain":[50,500],"nice":false},"axis":null},
"y":{"field":"m","type":"quantitative","scale":{"type":"log","domain":[2e5,8e9],"nice":false},"axis":null},
"color":{"field":"method","type":"nominal","scale":{"domain":["OLS","FITEXY","BCES","Bayesian","MLE"],"range":["black","#33cc33","orange","blue","red"]},"legend":null},
"strokeDash":{"field":"method","type":"nominal","scale":{"domain":["OLS","FITEXY","BCES","Bayesian","MLE"],"range":[[1,2],[4,3],[6,2,1,2],[1,0],[1,0]]},"legend":null}}}
]}
],
"config":{
"view":{"stroke":"black","strokeWidth":1},
"axis":{"domain":false,"grid":false,"tickColor":"black","tickWidth":1,"labelFont":"Liberation Serif","labelColor":"black","labelOverlap":false,"labelFlush":false,"titleFont":"Liberation Serif","titleColor":"black"}
}
}
